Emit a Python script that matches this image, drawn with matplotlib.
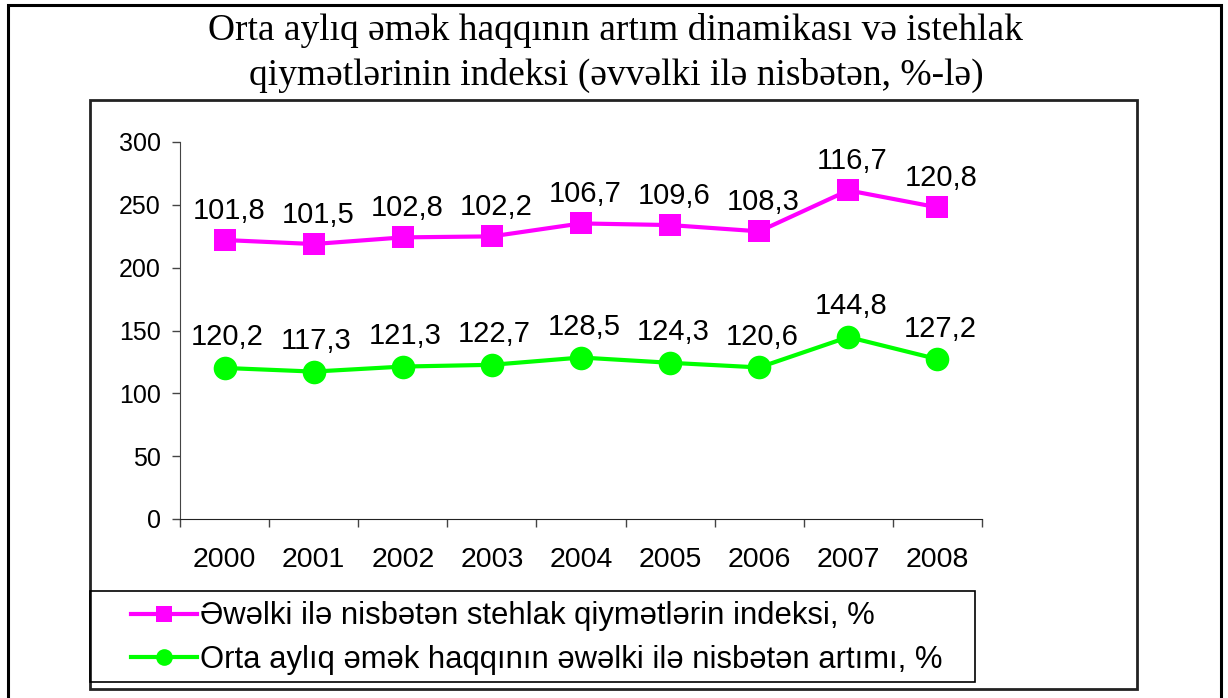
import numpy as np
import matplotlib
matplotlib.use("Agg")
import matplotlib.pyplot as plt
from matplotlib.patches import Rectangle
from matplotlib.lines import Line2D

years = ["2000", "2001", "2002", "2003", "2004", "2005", "2006", "2007", "2008"]
# orta ayliq emek haqqinin artimi (green, bottom series)
wage_growth = [120.2, 117.3, 121.3, 122.7, 128.5, 124.3, 120.6, 144.8, 127.2]
# istehlak qiymetleri indeksi (magenta, stacked on top of green)
cpi_index = [101.8, 101.5, 102.8, 102.2, 106.7, 109.6, 108.3, 116.7, 120.8]
yticks = [0, 50, 100, 150, 200, 250, 300]

title = ("Orta aylıq əmək haqqının artım dinamikası və istehlak\n"
         "qiymətlərinin indeksi (əvvəlki ilə nisbətən, %-lə)")
legend_labels = ["Əwəlki ilə nisbətən stehlak qiymətlərin indeksi, %",
                 "Orta aylıq əmək haqqının əwəlki ilə nisbətən artımı, %"]

plt.rcParams["font.family"] = ["Liberation Sans", "DejaVu Sans"]

W, H = 1228, 698
fig = plt.figure(figsize=(W / 100, H / 100), dpi=100)


def fx(px):
    return px / W


def fy(py):
    return 1 - py / H


# frames (outer page box, chart box, legend box)
fig.patches.append(Rectangle((fx(8), fy(705)), fx(1221) - fx(8), fy(5) - fy(705),
                             transform=fig.transFigure, fill=False, lw=2.2, ec="black"))
fig.patches.append(Rectangle((fx(90), fy(689)), fx(1137) - fx(90), fy(100) - fy(689),
                             transform=fig.transFigure, fill=False, lw=2.0, ec="#222222"))
fig.patches.append(Rectangle((fx(90), fy(682)), fx(975) - fx(90), fy(591) - fy(682),
                             transform=fig.transFigure, fill=False, lw=1.2, ec="black"))

fig.text(0.5015, fy(53), title, ha="center", va="center", fontsize=27,
         family=["Liberation Serif", "DejaVu Serif"], linespacing=1.36)

ax = fig.add_axes([fx(180), fy(519), fx(982) - fx(180), fy(142) - fy(519)])
x = np.arange(len(years))
stacked_top = np.array(wage_growth) + np.array(cpi_index)

ax.plot(x, stacked_top, color="#FF00FF", lw=3, marker="s", markersize=16,
        markeredgewidth=0, zorder=3)
ax.plot(x, wage_growth, color="#00FF00", lw=3, marker="o", markersize=17,
        markeredgewidth=0, zorder=3)

for xi, yi, v in zip(x, stacked_top, cpi_index):
    ax.annotate(f"{v:.1f}".replace(".", ","), (xi, yi), xytext=(3, 21),
                textcoords="offset points", ha="center", va="center", fontsize=21)
for xi, yi, v in zip(x, wage_growth, wage_growth):
    ax.annotate(f"{v:.1f}".replace(".", ","), (xi, yi), xytext=(2, 22),
                textcoords="offset points", ha="center", va="center", fontsize=21)

ax.set_xlim(-0.5, len(years) - 0.5)
ax.set_ylim(0, 300)
ax.set_yticks(yticks)
ax.tick_params(axis="y", direction="out", length=6, width=1, color="#444444",
               labelsize=18, pad=8)

ax.set_xticks(np.arange(len(years) + 1) - 0.5)
ax.set_xticklabels([])
ax.set_xticks(x, minor=True)
ax.set_xticklabels(years, minor=True)
ax.tick_params(axis="x", which="major", direction="out", length=6, width=1, color="#444444")
ax.tick_params(axis="x", which="minor", length=0, labelsize=20.5, pad=20)

for side in ["top", "right"]:
    ax.spines[side].set_visible(False)
ax.spines["left"].set_color("#444444")
ax.spines["bottom"].set_color("#222222")
ax.patch.set_alpha(0)

handles = [Line2D([], [], color="#FF00FF", lw=3, marker="s", markersize=11, markeredgewidth=0),
           Line2D([], [], color="#00FF00", lw=3, marker="o", markersize=12, markeredgewidth=0)]
fig.legend(handles, legend_labels, loc="center left",
           bbox_to_anchor=(fx(116), fy(638)), frameon=False, fontsize=22.3,
           handlelength=2.1, handletextpad=0.1, labelspacing=0.42, borderpad=0)

fig.savefig("out.png", dpi=100)
